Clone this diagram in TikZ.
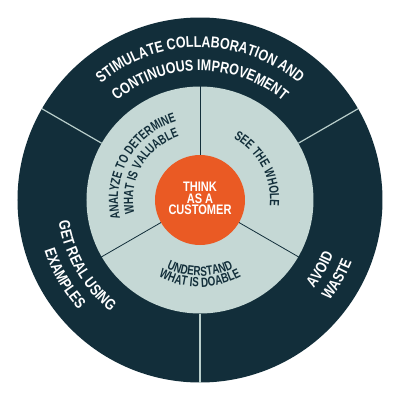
\documentclass[tikz,border=0pt]{standalone}
\usepackage{fontspec}
\setmainfont{Liberation Sans}[FakeStretch=0.8]
\newfontfamily\narrowfam{Liberation Sans}[FakeStretch=0.74]
\usetikzlibrary{decorations.text}
\definecolor{darkteal}{HTML}{122E3A}
\definecolor{lightteal}{HTML}{C5D8D5}
\definecolor{orangec}{HTML}{EA5A24}
\definecolor{divlight}{HTML}{B9CECB}
\newcommand\myouter{\bfseries\fontsize{15.6}{18}\selectfont}
\newcommand\myinner{\narrowfam\bfseries\fontsize{13.3}{15}\selectfont}
\newcommand\mycenter{\bfseries\fontsize{13.8}{11.5}\selectfont}
\tikzset{
  arctext/.style={decorate, decoration={text along path, text align=center, text color=#1}},
  outerdiv/.style={draw=divlight, line width=1.2pt},
  innerdiv/.style={draw=darkteal, line width=0.8pt},
}
\begin{document}
\begin{tikzpicture}[x=1pt,y=1pt]
\useasboundingbox (-200,-200) rectangle (200,200);
% discs
\fill[darkteal] (0,0) circle[radius=182.5pt];
\fill[lightteal] (0,0) circle[radius=113.5pt];
% dividers
\foreach \a in {30,150,270} \draw[outerdiv] (\a:113.5pt) -- (\a:182.5pt);
\foreach \a in {90,210,330} \draw[innerdiv] (\a:44pt) -- (\a:114pt);
% center
\node (core) [circle, fill=orangec, minimum size=90pt, inner sep=0pt] at (0,0) {};
\node (coretext) [align=center, text=white, font=\mycenter] at (0,1.5) {THINK\\AS A\\CUSTOMER};
% outer top
\path[arctext=white, decoration={text={|\myouter|STIMULATE COLLABORATION AND}}]
  (170:152.7pt) arc[start angle=170, end angle=10, radius=152.7pt];
\path[arctext=white, decoration={text={|\myouter|CONTINUOUS IMPROVEMENT}}]
  (170:129.3pt) arc[start angle=170, end angle=10, radius=129.3pt];
% outer lower left
\path[arctext=white, decoration={text={|\myouter|GET REAL USING}}]
  (130:143pt) arc[start angle=130, end angle=290, radius=143pt];
\path[arctext=white, decoration={text={|\myouter|EXAMPLES}}]
  (130:163.5pt) arc[start angle=130, end angle=290, radius=163.5pt];
% outer lower right
\path[arctext=white, decoration={text={|\myouter|AVOID}}]
  (250:144pt) arc[start angle=250, end angle=410, radius=144pt];
\path[arctext=white, decoration={text={|\myouter|WASTE}}]
  (250:164pt) arc[start angle=250, end angle=410, radius=164pt];
% inner
\path[arctext=darkteal, decoration={text={|\myinner|ANALYZE TO DETERMINE}}]
  (230:82pt) arc[start angle=230, end angle=70, radius=82pt];
\path[arctext=darkteal, decoration={text={|\myinner|WHAT IS VALUABLE}}]
  (230:67pt) arc[start angle=230, end angle=70, radius=67pt];
\path[arctext=darkteal, decoration={text={|\myinner|SEE THE WHOLE}}]
  (108:70pt) arc[start angle=108, end angle=-52, radius=70pt];
\path[arctext=darkteal, decoration={text={|\myinner|UNDERSTAND}}]
  (190:76pt) arc[start angle=190, end angle=350, radius=76pt];
\path[arctext=darkteal, decoration={text={|\myinner|WHAT IS DOABLE}}]
  (190:87pt) arc[start angle=190, end angle=350, radius=87pt];
\end{tikzpicture}
\end{document}
